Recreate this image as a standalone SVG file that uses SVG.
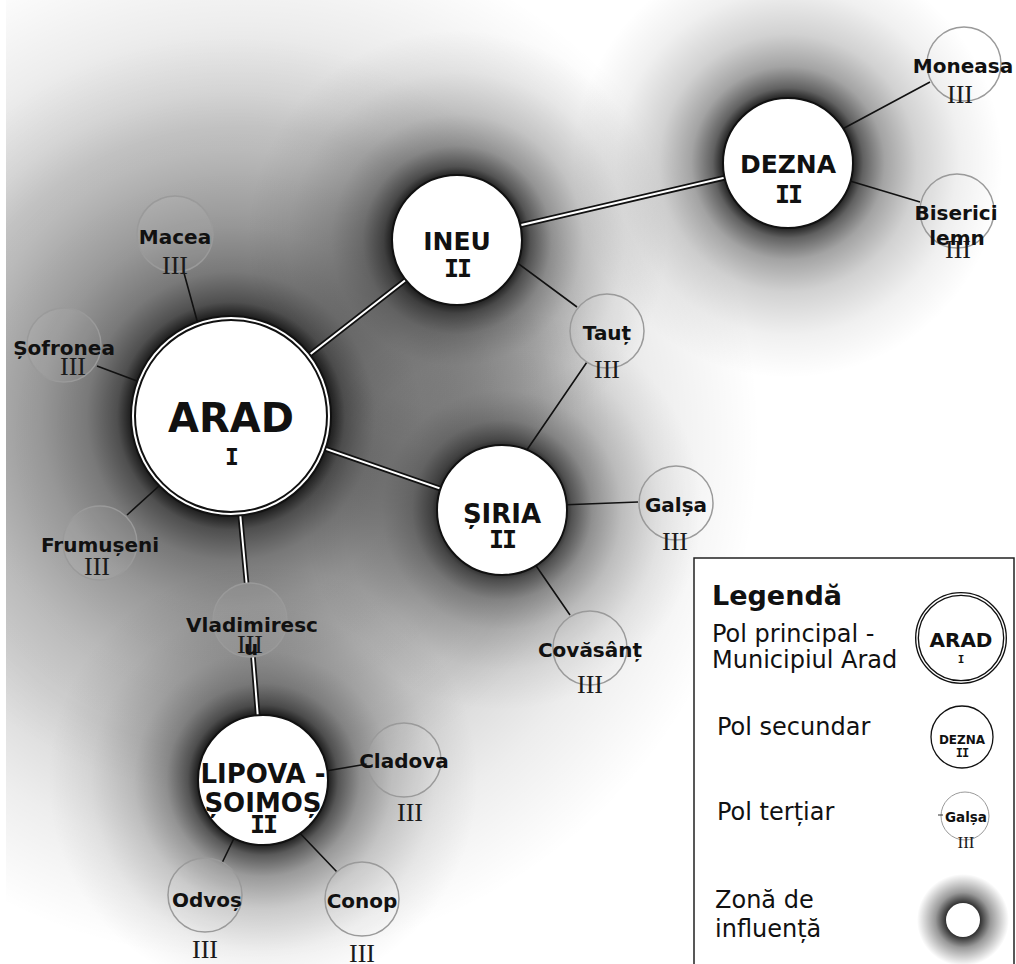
<svg xmlns="http://www.w3.org/2000/svg" width="1016" height="964" viewBox="0 0 1016 964">
<defs>
<radialGradient id="zA">
<stop offset="0.26" stop-color="#000" stop-opacity="0.88"/>
<stop offset="0.3" stop-color="#000" stop-opacity="0.62"/>
<stop offset="0.38" stop-color="#000" stop-opacity="0.42"/>
<stop offset="0.5" stop-color="#000" stop-opacity="0.28"/>
<stop offset="0.7" stop-color="#000" stop-opacity="0.12"/>
<stop offset="0.85" stop-color="#000" stop-opacity="0.04"/>
<stop offset="1" stop-color="#000" stop-opacity="0"/>
</radialGradient>
<radialGradient id="zW">
<stop offset="0" stop-color="#000" stop-opacity="0.2"/>
<stop offset="0.6" stop-color="#000" stop-opacity="0.17"/>
<stop offset="0.8" stop-color="#000" stop-opacity="0.07"/>
<stop offset="1" stop-color="#000" stop-opacity="0"/>
</radialGradient>
<radialGradient id="zB">
<stop offset="0.3" stop-color="#000" stop-opacity="0.88"/>
<stop offset="0.35" stop-color="#000" stop-opacity="0.62"/>
<stop offset="0.45" stop-color="#000" stop-opacity="0.36"/>
<stop offset="0.6" stop-color="#000" stop-opacity="0.18"/>
<stop offset="0.8" stop-color="#000" stop-opacity="0.06"/>
<stop offset="1" stop-color="#000" stop-opacity="0"/>
</radialGradient>
<radialGradient id="zL">
<stop offset="0.35" stop-color="#000" stop-opacity="0.85"/>
<stop offset="0.6" stop-color="#000" stop-opacity="0.4"/>
<stop offset="1" stop-color="#000" stop-opacity="0"/>
</radialGradient>
<style>
.dbl1{stroke:#111;stroke-width:5.5;fill:none}
.dbl2{stroke:#fff;stroke-width:2;fill:none}
.sgl{stroke:#111;stroke-width:1.6;fill:none}
.n2{fill:#fff;stroke:#111;stroke-width:2}
.n3{fill:#fff;fill-opacity:0.06;stroke:#9a9a9a;stroke-width:1.5}
.t2{font-family:"DejaVu Sans",Verdana,sans-serif;font-weight:bold;font-size:25px;text-anchor:middle;fill:#111}
.r2{font-family:"DejaVu Sans Mono",monospace;font-weight:bold;font-size:25px;text-anchor:middle;fill:#111;letter-spacing:-2px}
.t3{font-family:"DejaVu Sans",Verdana,sans-serif;font-weight:bold;font-size:20px;text-anchor:middle;fill:#111}
.r3{font-family:"Liberation Serif","Times New Roman",serif;font-size:26px;text-anchor:middle;fill:#1a1a1a}
.lg{font-family:"DejaVu Sans",Verdana,sans-serif;font-size:24px;fill:#111}
</style>
</defs>
<rect width="1016" height="964" fill="#fff"/>
<g id="zones">
<circle cx="240" cy="440" r="520" fill="url(#zW)"/>
<circle cx="231" cy="416" r="380" fill="url(#zA)"/>
<circle cx="457" cy="240" r="210" fill="url(#zB)"/>
<circle cx="788" cy="163" r="215" fill="url(#zB)"/>
<circle cx="502" cy="510" r="200" fill="url(#zB)"/>
<circle cx="263" cy="780" r="215" fill="url(#zB)"/>
<rect x="0" y="0" width="6" height="964" fill="#fff"/>
</g>
<g id="connectors">
<path class="dbl1" d="M231 416 L457 240 M457 240 L788 163 M231 416 L502 510 M231 416 L246.6 583.2 M253 657 L263 780"/>
<path class="dbl2" d="M231 416 L457 240 M457 240 L788 163 M231 416 L502 510 M231 416 L246.6 583.2 M253 657 L263 780"/>
<path class="sgl" d="M201 335 L184 273 M145 384 L97 366 M170 476 L127 515 M500 250 L577 307 M520 460 L587 362 M560 505 L638 502 M530 557 L570 615 M835 133 L930 82 M840 178 L920 202 M320 772 L367 764 M238 830 L222 863 M295 828 L337 872"/>
</g>
<g id="arad">
<circle cx="231" cy="416" r="98" fill="#fff" stroke="#111" stroke-width="6"/>
<circle cx="231" cy="416" r="98" fill="none" stroke="#fff" stroke-width="2"/>
<text x="231" y="432" class="t2" style="font-size:40px">ARAD</text>
<text x="231" y="465" class="r2" style="font-size:23px">I</text>
</g>
<g id="ineu">
<circle cx="457" cy="240" r="65" class="n2"/>
<text x="457" y="250" class="t2">INEU</text>
<text x="457" y="277" class="r2">II</text>
</g>
<g id="dezna">
<circle cx="788" cy="163" r="65" class="n2"/>
<text x="788" y="173" class="t2">DEZNA</text>
<text x="788" y="203" class="r2">II</text>
</g>
<g id="siria">
<circle cx="502" cy="510" r="65" class="n2"/>
<text x="502" y="523" class="t2" style="font-size:26px">ȘIRIA</text>
<text x="502" y="548" class="r2">II</text>
</g>
<g id="lipova">
<circle cx="263" cy="780" r="65" class="n2"/>
<text x="263" y="783" class="t2" style="font-size:26px">LIPOVA -</text>
<text x="263" y="812" class="t2" style="font-size:26px">ȘOIMOȘ</text>
<text x="263" y="833" class="r2">II</text>
</g>
<g id="macea">
<circle cx="175" cy="234" r="38" class="n3"/>
<text x="175" y="244" class="t3">Macea</text>
<text x="175" y="274" class="r3">III</text>
</g>
<g id="sofronea">
<circle cx="64" cy="345" r="37" class="n3"/>
<text x="64" y="355" class="t3">Șofronea</text>
<text x="73" y="375" class="r3">III</text>
</g>
<g id="frumuseni">
<circle cx="100" cy="543" r="37" class="n3"/>
<text x="100" y="552" class="t3">Frumușeni</text>
<text x="97" y="575" class="r3">III</text>
</g>
<g id="taut">
<circle cx="607" cy="331" r="37" class="n3"/>
<text x="607" y="340" class="t3">Tauț</text>
<text x="607" y="378" class="r3">III</text>
</g>
<g id="galsa">
<circle cx="676" cy="503" r="37" class="n3"/>
<text x="676" y="512" class="t3">Galșa</text>
<text x="675" y="550" class="r3">III</text>
</g>
<g id="covasant">
<circle cx="590" cy="648" r="37" class="n3"/>
<text x="590" y="657" class="t3">Covăsânț</text>
<text x="590" y="693" class="r3">III</text>
</g>
<g id="vladimirescu">
<circle cx="250" cy="620" r="37" class="n3"/>
<text x="252" y="632" class="t3">Vladimiresc</text>
<text x="250" y="653" class="r3">III</text>
<text x="251" y="655" class="t3">u</text>
</g>
<g id="cladova">
<circle cx="404" cy="760" r="37" class="n3"/>
<text x="404" y="768" class="t3">Cladova</text>
<text x="410" y="821" class="r3">III</text>
</g>
<g id="odvos">
<circle cx="205" cy="895" r="37" class="n3"/>
<text x="207" y="907" class="t3">Odvoș</text>
<text x="205" y="958" class="r3">III</text>
</g>
<g id="conop">
<circle cx="362" cy="899" r="37" class="n3"/>
<text x="362" y="908" class="t3">Conop</text>
<text x="362" y="962" class="r3">III</text>
</g>
<g id="moneasa">
<circle cx="964" cy="64" r="37" class="n3"/>
<text x="963" y="73" class="t3">Moneasa</text>
<text x="960" y="103" class="r3">III</text>
</g>
<g id="biserici">
<circle cx="957" cy="211" r="37" class="n3"/>
<text x="956" y="220" class="t3">Biserici</text>
<text x="958" y="258" class="r3">III</text>
<text x="957" y="245" class="t3">lemn</text>
</g>
<g id="legend">
<rect x="694" y="558" width="320" height="420" fill="#fff" stroke="#222" stroke-width="1.5"/>
<text x="712" y="605" class="lg" style="font-weight:bold;font-size:27px">Legendă</text>
<text x="712" y="642" class="lg">Pol principal -</text>
<text x="712" y="668" class="lg">Municipiul Arad</text>
<text x="717" y="735" class="lg">Pol secundar</text>
<text x="717" y="820" class="lg">Pol terțiar</text>
<text x="715" y="908" class="lg">Zonă de</text>
<text x="715" y="937" class="lg">influență</text>
<circle cx="961" cy="638" r="44" fill="#fff" stroke="#111" stroke-width="4"/>
<circle cx="961" cy="638" r="44" fill="none" stroke="#fff" stroke-width="1.3"/>
<text x="961" y="647" class="t2" style="font-size:20px">ARAD</text>
<text x="961" y="663" class="r2" style="font-size:11px;letter-spacing:0">I</text>
<circle cx="962" cy="737" r="31" fill="#fff" stroke="#111" stroke-width="1.3"/>
<text x="962" y="744" class="t2" style="font-size:12px">DEZNA</text>
<text x="962" y="757" class="r2" style="font-size:12px;letter-spacing:-1px">II</text>
<circle cx="965" cy="816" r="24" fill="#fff" stroke="#9a9a9a" stroke-width="1"/>
<line x1="938" y1="815" x2="943" y2="815" stroke="#333" stroke-width="1"/>
<text x="966" y="822" class="t3" style="font-size:13.5px">Galșa</text>
<text x="966" y="848" class="r3" style="font-size:17px">III</text>
<circle cx="963" cy="920" r="46" fill="url(#zL)"/>
<circle cx="963" cy="920" r="17" fill="#fff"/>
</g>
</svg>
